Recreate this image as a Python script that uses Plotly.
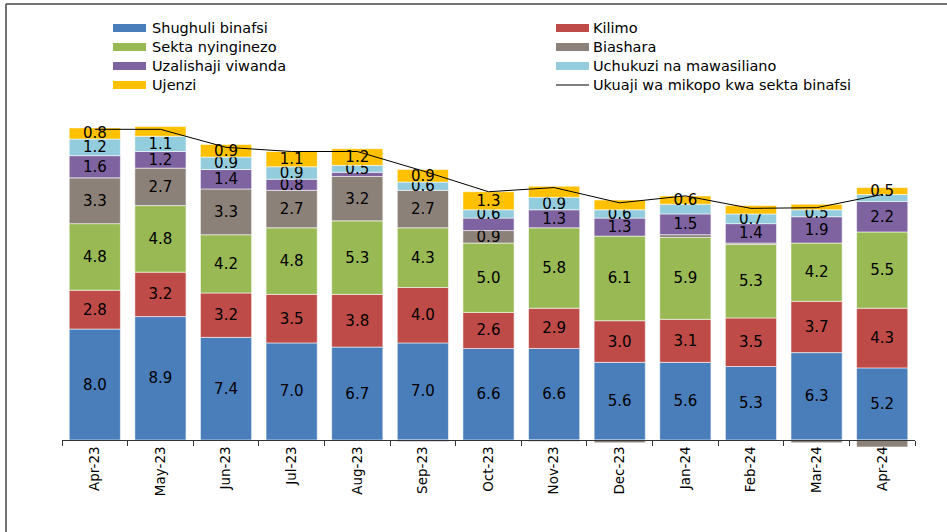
import plotly.graph_objects as go

# ---------------- data ----------------
months = ["Apr-23", "May-23", "Jun-23", "Jul-23", "Aug-23", "Sep-23", "Oct-23",
          "Nov-23", "Dec-23", "Jan-24", "Feb-24", "Mar-24", "Apr-24"]

shughuli_binafsi = [8.0, 8.9, 7.4, 7.0, 6.7, 7.0, 6.6, 6.6, 5.6, 5.6, 5.3, 6.3, 5.2]
kilimo = [2.8, 3.2, 3.2, 3.5, 3.8, 4.0, 2.6, 2.9, 3.0, 3.1, 3.5, 3.7, 4.3]
sekta_nyinginezo = [4.8, 4.8, 4.2, 4.8, 5.3, 4.3, 5.0, 5.8, 6.1, 5.9, 5.3, 4.2, 5.5]
biashara = [3.3, 2.7, 3.3, 2.7, 3.2, 2.7, 0.9, -0.1, -0.2, 0.2, 0.1, -0.2, -0.5]
uzalishaji_viwanda = [1.6, 1.2, 1.4, 0.8, 0.3, -0.1, 0.9, 1.3, 1.3, 1.5, 1.4, 1.9, 2.2]
uchukuzi = [1.2, 1.1, 0.9, 0.9, 0.5, 0.6, 0.6, 0.9, 0.6, 0.7, 0.7, 0.5, 0.5]
ujenzi = [0.8, 0.7, 0.9, 1.1, 1.2, 0.9, 1.3, 0.8, 0.7, 0.6, 0.6, 0.4, 0.5]
ukuaji_jumla = [22.4, 22.4, 21.1, 20.8, 20.8, 19.4, 17.9, 18.2, 17.1, 17.6, 16.7, 16.75, 17.7]

# which segments carry a value label in the original
lbl_all = [True] * 13
lbl_biashara = [True, True, True, True, True, True, True, False, False, False, False, False, False]
lbl_uzalishaji = [True, True, True, True, False, False, False, True, True, True, True, True, True]
lbl_uchukuzi = [True, True, True, True, True, True, True, True, True, False, True, True, False]
lbl_ujenzi = [True, False, True, True, True, True, True, False, False, True, False, False, True]

series = [
    ("Shughuli binafsi", shughuli_binafsi, lbl_all, "#4A7EBB"),
    ("Kilimo", kilimo, lbl_all, "#BE4B48"),
    ("Sekta nyinginezo", sekta_nyinginezo, lbl_all, "#98B954"),
    ("Biashara", biashara, lbl_biashara, "#8B8179"),
    ("Uzalishaji viwanda", uzalishaji_viwanda, lbl_uzalishaji, "#7F63A1"),
    ("Uchukuzi na mawasiliano", uchukuzi, lbl_uchukuzi, "#93CDDD"),
    ("Ujenzi", ujenzi, lbl_ujenzi, "#FFC000"),
]
line_name = "Ukuaji wa mikopo kwa sekta binafsi"

# ---------------- layout geometry ----------------
W, H = 947, 532
ML, MR, MT, MB = 62, 32, 100, 77
PW, PH = W - ML - MR, H - MT - MB
ZERO_PX = 440            # pixel row of the zero line
UNIT_PX = 13.87          # pixels per percentage point
y_top = (ZERO_PX - MT) / UNIT_PX
y_bot = -((H - MB) - ZERO_PX) / UNIT_PX


def px_x(px):
    return (px - ML) / PW


def px_y(py):
    return ((H - MB) - py) / PH


FONT = "DejaVu Sans"

fig = go.Figure()
for name, vals, show, col in series:
    fig.add_trace(go.Bar(
        x=months, y=vals, name=name,
        marker=dict(color=col, line=dict(color="rgba(255,255,255,0.7)", width=0.8)),
        text=[f"{v:.1f}" if s else "" for v, s in zip(vals, show)],
        textposition="inside", insidetextanchor="middle", textangle=0,
        constraintext="none",
        insidetextfont=dict(family=FONT, size=15, color="black"),
        showlegend=False, hoverinfo="x+y+name",
    ))

fig.add_trace(go.Scatter(
    x=months, y=ukuaji_jumla, name=line_name, mode="lines",
    line=dict(color="black", width=1), showlegend=False,
))

# ---------------- manual legend ----------------
shapes = []
annotations = []
rows = [28, 47, 66, 85]
legend_items = [(s[0], s[3], "bar") for s in series] + [(line_name, "black", "line")]
for i, (name, col, kind) in enumerate(legend_items):
    c = i % 2
    r = i // 2
    x0, x1, tx = (113, 146, 150) if c == 0 else (556, 589, 591)
    yc = rows[r]
    if kind == "bar":
        shapes.append(dict(type="rect", xref="paper", yref="paper",
                           x0=px_x(x0), x1=px_x(x1), y0=px_y(yc + 4), y1=px_y(yc - 4),
                           fillcolor=col, line=dict(width=0)))
    else:
        shapes.append(dict(type="line", xref="paper", yref="paper",
                           x0=px_x(x0), x1=px_x(x1), y0=px_y(yc), y1=px_y(yc),
                           line=dict(color=col, width=1)))
    annotations.append(dict(text=name, xref="paper", yref="paper",
                            x=px_x(tx), y=px_y(yc), xanchor="left", yanchor="middle",
                            showarrow=False, font=dict(family=FONT, size=14.5, color="black")))

# outer frame (top and left edges visible)
shapes.append(dict(type="line", xref="paper", yref="paper",
                   x0=px_x(6), x1=px_x(W + 5), y0=px_y(4), y1=px_y(4),
                   line=dict(color="#444444", width=1.5)))
shapes.append(dict(type="line", xref="paper", yref="paper",
                   x0=px_x(6), x1=px_x(6), y0=px_y(4), y1=px_y(H + 5),
                   line=dict(color="#444444", width=1.5)))

fig.update_layout(
    width=W, height=H, autosize=False,
    margin=dict(l=ML, r=MR, t=MT, b=MB, pad=0),
    paper_bgcolor="white", plot_bgcolor="white",
    barmode="relative", bargap=0.22,
    showlegend=False,
    shapes=shapes, annotations=annotations,
    font=dict(family=FONT, color="black"),
    xaxis=dict(
        type="category", anchor="free", position=((H - MB) - ZERO_PX) / PH,
        showline=True, linecolor="#333333", linewidth=1,
        ticks="outside", ticklen=5, tickcolor="#333333", tickson="boundaries",
        tickangle=-90, tickfont=dict(family=FONT, size=13.5, color="black"),
        showgrid=False, zeroline=False,
    ),
    yaxis=dict(range=[y_bot, y_top], visible=False, showgrid=False, zeroline=False),
)

fig.write_html("out.html",
               config={"displayModeBar": False},
               post_script="document.body.style.margin='0';document.body.style.overflow='hidden';")
